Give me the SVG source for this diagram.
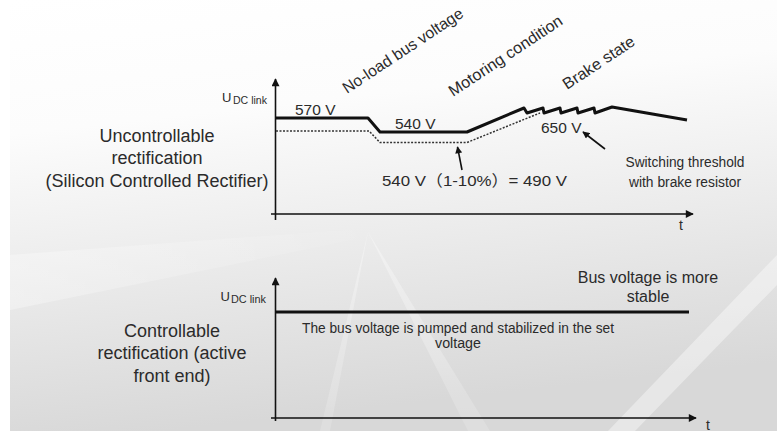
<svg xmlns="http://www.w3.org/2000/svg" width="777" height="436" viewBox="0 0 777 436">
<defs>
<linearGradient id="bg" x1="0" y1="0" x2="0.2" y2="1">
<stop offset="0" stop-color="#ffffff"/>
<stop offset="0.3" stop-color="#fcfcfc"/>
<stop offset="1" stop-color="#d8d8d8"/>
</linearGradient>
<linearGradient id="ray" x1="0" y1="0" x2="0" y2="1">
<stop offset="0" stop-color="#ffffff" stop-opacity="0.9"/>
<stop offset="1" stop-color="#ffffff" stop-opacity="0.4"/>
</linearGradient>
<linearGradient id="band" x1="0" y1="0" x2="1" y2="0">
<stop offset="0" stop-color="#ffffff" stop-opacity="0.8"/>
<stop offset="1" stop-color="#ffffff" stop-opacity="0.1"/>
</linearGradient>
<marker id="ah" viewBox="0 0 10 10" refX="9" refY="5" markerWidth="9" markerHeight="8" markerUnits="userSpaceOnUse" orient="auto"><path d="M0,0 L10,5 L0,10 z" fill="#111"/></marker>
<marker id="ahp" viewBox="0 0 10 10" refX="9" refY="5" markerWidth="8" markerHeight="7" markerUnits="userSpaceOnUse" orient="auto"><path d="M0,0 L10,5 L0,10 z" fill="#111"/></marker>
<style>
text{font-family:"Liberation Sans",Arial,"Noto Sans CJK SC",sans-serif;fill:#2b2b2b}
.big{font-size:18px;text-anchor:middle}
.val{font-size:15.5px}
.rot{font-size:16px}
.note{font-size:14px;text-anchor:middle}
.u{font-size:13px}
.sub{font-size:10px}
.axis{stroke:#111;stroke-width:1.6;fill:none}
.curve{stroke:#111;stroke-width:3;fill:none;stroke-linejoin:round}
.dash{stroke:#333;stroke-width:1.5;fill:none;stroke-dasharray:2 1.5}
.ptr{stroke:#111;stroke-width:1.6;fill:none}
</style>
</defs>
<rect width="777" height="436" fill="#ffffff"/>
<rect x="10" y="0" width="767" height="431" fill="url(#bg)"/>
<g id="background-rays" opacity="0.4">
<polygon points="10,310 10,255 370,228 372,236" fill="url(#band)"/>
<polygon points="368,232 320,431 330,431" fill="url(#ray)"/>
<polygon points="368,232 468,431 490,431" fill="url(#ray)"/>
<polygon points="777,255 777,285 635,431 608,431" fill="#ffffff"/>
</g>

<g id="chart-top">
<g id="top-axes">
<line class="axis" x1="275.5" y1="220" x2="275.5" y2="79" marker-end="url(#ah)"/>
<line class="axis" x1="271" y1="214" x2="693" y2="214" marker-end="url(#ah)"/>
<text class="u" x="222" y="102">U</text>
<text class="sub" x="233" y="104" textLength="34" lengthAdjust="spacingAndGlyphs">DC link</text>
<text x="679" y="230" style="font-size:14px">t</text>
</g>
<g id="top-curves">
<path class="curve" d="M276,118 L368,118 L380,132 L467,132 L524,108 L527,113 L543,108 L544,113 L560,108 L561,113 L577,108 L578,113 L594,108 L595,113 L612,107 L687,120"/>
<path class="dash" d="M276,131 L369,131 L380,142.5 L467,142.5 L540,113"/>
</g>
<g id="top-labels">
<text class="val" x="295" y="115">570 V</text>
<text class="val" x="395" y="129">540 V</text>
<text class="val" x="541" y="133">650 V</text>
<text class="val" x="382" y="186" textLength="185" lengthAdjust="spacingAndGlyphs">540 V（1-10%）= 490 V</text>
<text class="rot" transform="translate(347,94) rotate(-33.5)" textLength="141" lengthAdjust="spacingAndGlyphs">No-load bus voltage</text>
<text class="rot" transform="translate(453,97) rotate(-33.5)" textLength="133" lengthAdjust="spacingAndGlyphs">Motoring condition</text>
<text class="rot" transform="translate(567,90) rotate(-33.5)" textLength="83" lengthAdjust="spacingAndGlyphs">Brake state</text>
<text class="note" x="685" y="167" textLength="119" lengthAdjust="spacingAndGlyphs">Switching threshold</text>
<text class="note" x="685" y="187" textLength="112" lengthAdjust="spacingAndGlyphs">with brake resistor</text>
</g>
</g>

<g id="connectors">
<line class="ptr" x1="462" y1="170" x2="457.5" y2="147" marker-end="url(#ahp)"/>
<line class="ptr" x1="605" y1="149" x2="583" y2="132" marker-end="url(#ahp)"/>
</g>

<g id="label-uncontrollable">
<text class="big" x="157" y="142">Uncontrollable</text>
<text class="big" x="157" y="164">rectification</text>
<text class="big" x="157" y="187">(Silicon Controlled Rectifier)</text>
</g>

<g id="chart-bottom">
<g id="bottom-axes">
<line class="axis" x1="275.5" y1="421" x2="275.5" y2="278" marker-end="url(#ah)"/>
<line class="axis" x1="271" y1="418" x2="696" y2="418" marker-end="url(#ah)"/>
<text class="u" x="220.5" y="301">U</text>
<text class="sub" x="231" y="303" textLength="35" lengthAdjust="spacingAndGlyphs">DC link</text>
<text x="706" y="430" style="font-size:14px">t</text>
</g>
<path class="curve" d="M276,312 L689,312"/>
<g id="bottom-labels">
<text class="note" x="458" y="333" textLength="312" lengthAdjust="spacingAndGlyphs">The bus voltage is pumped and stabilized in the set</text>
<text class="note" x="458" y="348" textLength="46" lengthAdjust="spacingAndGlyphs">voltage</text>
<text x="648" y="283" style="font-size:16px;text-anchor:middle">Bus voltage is more</text>
<text x="648" y="302" style="font-size:16px;text-anchor:middle">stable</text>
</g>
</g>

<g id="label-controllable">
<text class="big" x="172" y="337">Controllable</text>
<text class="big" x="172" y="359">rectification (active</text>
<text class="big" x="172" y="382">front end)</text>
</g>
</svg>
